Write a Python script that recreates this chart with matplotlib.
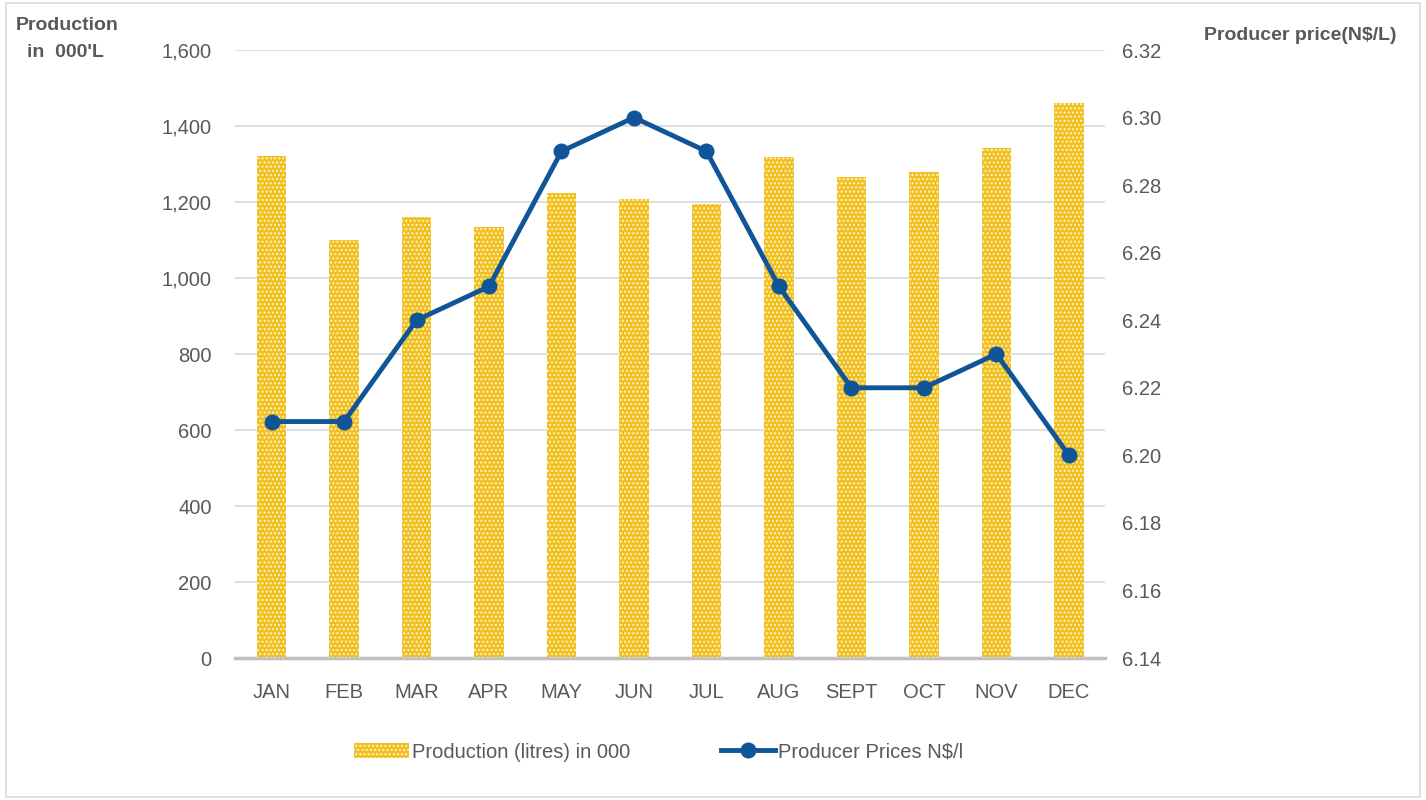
import matplotlib.pyplot as plt
from matplotlib.patches import Rectangle
from matplotlib.lines import Line2D

plt.rcParams['font.family'] = ['Liberation Sans', 'DejaVu Sans']

months = ['JAN', 'FEB', 'MAR', 'APR', 'MAY', 'JUN', 'JUL', 'AUG', 'SEPT', 'OCT', 'NOV', 'DEC']
production = [1320, 1100, 1160, 1135, 1225, 1208, 1196, 1318, 1265, 1278, 1343, 1460]
price = [6.21, 6.21, 6.24, 6.25, 6.29, 6.30, 6.29, 6.25, 6.22, 6.22, 6.23, 6.20]

grey = '#595959'
bar_col = '#f0c020'
line_col = '#0f5597'

fig = plt.figure(figsize=(14.26, 8), dpi=100)
fig.patches.append(Rectangle((0.004, 0.004), 0.992, 0.992, transform=fig.transFigure,
                             fill=False, edgecolor='#d9d9d9', linewidth=1.2))

ax = fig.add_axes([0.165, 0.1775, 0.61, 0.76])
x = range(len(months))
ax.bar(x, production, width=0.41, color=bar_col, linewidth=0, zorder=2)
# white dotted pattern on top
ax.bar(x, production, width=0.41, facecolor='none', edgecolor='#fff4c8', hatch='....',
       linewidth=0, zorder=3)

ax.set_ylim(0, 1600)
ax.set_xlim(-0.5, 11.5)
ax.set_yticks(range(0, 1601, 200))
ax.set_yticklabels([f'{v:,}' for v in range(0, 1601, 200)])
ax.set_xticks(list(x))
ax.set_xticklabels(months)
ax.grid(axis='y', color='#d9d9d9', linewidth=1.2, zorder=0)
ax.set_axisbelow(True)
for s in ['top', 'right', 'left']:
    ax.spines[s].set_visible(False)
ax.spines['bottom'].set_color('#bfbfbf')
ax.spines['bottom'].set_linewidth(2.5)
ax.tick_params(axis='both', length=0, colors=grey, labelsize=14.5)
ax.tick_params(axis='x', pad=18)
ax.tick_params(axis='y', pad=17)

ax2 = ax.twinx()
ax2.plot(list(x), price, color=line_col, linewidth=3.5, marker='o', markersize=10.5, zorder=5)
ax2.set_ylim(6.14, 6.32)
ax2.set_yticks([6.14 + 0.02 * i for i in range(10)])
ax2.set_yticklabels([f'{6.14 + 0.02 * i:.2f}' for i in range(10)])
for s in ['top', 'right', 'left', 'bottom']:
    ax2.spines[s].set_visible(False)
ax2.tick_params(axis='y', length=0, colors=grey, labelsize=14.5, pad=12)

fig.text(0.011, 0.968, 'Production', fontsize=14, fontweight='bold', color=grey, ha='left', va='center')
fig.text(0.019, 0.934, "in  000'L", fontsize=14, fontweight='bold', color=grey, ha='left', va='center')
fig.text(0.844, 0.956, 'Producer price(N$/L)', fontsize=14, fontweight='bold', color=grey,
         ha='left', va='center')

h1 = Rectangle((0, 0), 1, 1, facecolor=bar_col, edgecolor='#fff4c8', hatch='....', linewidth=0)
h2 = Line2D([], [], color=line_col, linewidth=3.5, marker='o', markersize=10.5)
fig.legend([h1, h2], ['Production (litres) in 000', 'Producer Prices N$/l'],
           loc='center', bbox_to_anchor=(0.462, 0.06), ncol=2, frameon=False,
           fontsize=14.5, labelcolor=grey, handlelength=2.7, handletextpad=0.15,
           columnspacing=4.5)

fig.savefig('out.png', dpi=100)
